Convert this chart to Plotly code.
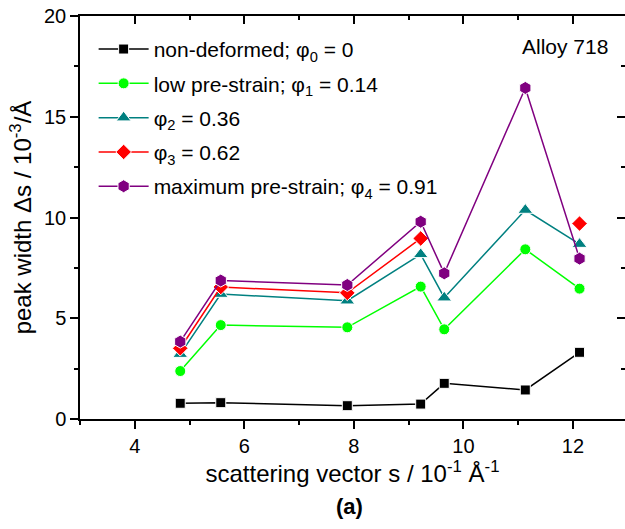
import plotly.graph_objects as go

s_vals = [4.83, 5.57, 7.88, 9.22, 9.65, 11.13, 12.12]

w_phi0 = [0.78, 0.81, 0.66, 0.74, 1.77, 1.44, 3.31]
w_phi1 = [2.38, 4.66, 4.55, 6.57, 4.45, 8.42, 6.47]
w_phi2 = [3.22, 6.20, 5.87, 8.17, 6.02, 10.37, 8.68]
w_phi3 = [3.51, 6.55, 6.26, 8.96, None, None, 9.70]
w_phi4 = [3.84, 6.87, 6.65, 9.79, 7.23, 16.43, 7.96]

names = [
    "non-deformed; φ<sub>0</sub> = 0",
    "low pre-strain; φ<sub>1</sub> = 0.14",
    "φ<sub>2</sub> = 0.36",
    "φ<sub>3</sub> = 0.62",
    "maximum pre-strain; φ<sub>4</sub> = 0.91",
]
series = [w_phi0, w_phi1, w_phi2, w_phi3, w_phi4]
colors = ["#000000", "#00FF00", "#008080", "#FF0000", "#800080"]
symbols = ["square", "circle", "triangle-up", "diamond", "hexagon"]
sizes = [10, 11, 13, 12, 13]

FONT = "Arial, Liberation Sans, sans-serif"

fig = go.Figure()
for i, (nm, ys, c, sym, sz) in enumerate(zip(names, series, colors, symbols, sizes)):
    fig.add_trace(go.Scatter(
        x=s_vals, y=ys, name=nm, mode="lines+markers",
        line=dict(color=c, width=1.5),
        marker=dict(symbol=sym, size=sz, color=c, line=dict(color="white", width=1)),
        connectgaps=False, legendgroup=f"g{i}",
    ))

# dummy trace for mirrored axes
fig.add_trace(go.Scatter(x=[None], y=[None], xaxis="x2", yaxis="y2", showlegend=False, hoverinfo="skip"))

XR = [3, 12.95]
YR = [0, 20]

fig.update_layout(
    width=625, height=529, autosize=False,
    margin=dict(l=80, r=0, t=16, b=110),
    paper_bgcolor="white", plot_bgcolor="white",
    font=dict(family=FONT, size=20, color="black"),
    showlegend=True,
    legend=dict(x=0.025, y=0.968, xanchor="left", yanchor="top",
                bgcolor="rgba(0,0,0,0)", borderwidth=0,
                font=dict(family=FONT, size=21, color="black"),
                itemwidth=50, tracegroupgap=4),
    xaxis=dict(range=XR, showgrid=False, zeroline=False, showline=True,
               linecolor="black", linewidth=1.5, ticks="outside", ticklen=8,
               tickwidth=1.5, tickcolor="black", tick0=4, dtick=2,
               tickfont=dict(size=20, family=FONT),
               minor=dict(dtick=1, tick0=3, ticks="outside", ticklen=4, tickwidth=1.5, tickcolor="black"),
               title=dict(text="scattering vector s / 10<sup>-1</sup> Å<sup>-1</sup>",
                          font=dict(size=24, family=FONT), standoff=8)),
    yaxis=dict(range=YR, showgrid=False, zeroline=False, showline=True,
               linecolor="black", linewidth=1.5, ticks="outside", ticklen=8,
               tickwidth=1.5, tickcolor="black", tick0=0, dtick=5,
               tickfont=dict(size=20, family=FONT),
               minor=dict(dtick=2.5, ticks="outside", ticklen=4, tickwidth=1.5, tickcolor="black"),
               title=dict(text="peak width Δs / 10<sup>-3</sup>/Å",
                          font=dict(size=24, family=FONT), standoff=6)),
    xaxis2=dict(range=XR, overlaying="x", side="top", anchor="y", showgrid=False,
                zeroline=False, showline=True, linecolor="black", linewidth=1.5,
                ticks="inside", ticklen=8, tickwidth=1.5, tickcolor="black",
                tick0=4, dtick=2, showticklabels=False,
                minor=dict(dtick=1, tick0=3, ticks="inside", ticklen=4, tickwidth=1.5, tickcolor="black")),
    yaxis2=dict(range=YR, overlaying="y", side="right", anchor="x", showgrid=False,
                zeroline=False, showline=False,
                ticks="inside", ticklen=8, tickwidth=1.5, tickcolor="black",
                tick0=0, dtick=5, showticklabels=False,
                minor=dict(dtick=2.5, ticks="inside", ticklen=4, tickwidth=1.5, tickcolor="black")),
    annotations=[
        dict(text="Alloy 718", xref="paper", yref="paper", x=0.972, y=0.925,
             xanchor="right", yanchor="middle", showarrow=False,
             font=dict(size=21, family=FONT, color="black")),
        dict(text="<b>(a)</b>", xref="paper", yref="paper", x=0.495, y=-0.218,
             xanchor="center", yanchor="middle", showarrow=False,
             font=dict(size=22, family=FONT, color="black")),
    ],
)

fig.write_html("out.html")
